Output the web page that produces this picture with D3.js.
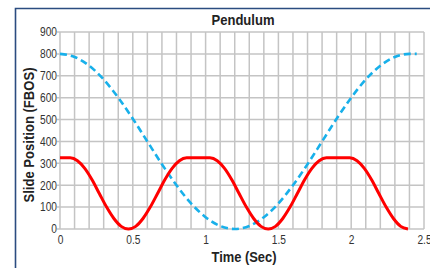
<!DOCTYPE html>
<html>
<head>
<meta charset="utf-8">
<script src="https://cdn.jsdelivr.net/npm/d3@7"></script>
<style>
  body { margin: 0; background: #fff; }
  text { font-family: "Liberation Sans", Arial, sans-serif; }
</style>
</head>
<body>
<svg id="chart" width="430" height="268"></svg>
<script>
// values
const blueTime = [0, 0.1, 0.2, 0.3, 0.4, 0.5, 0.6, 0.7, 0.8, 0.9, 1.0, 1.1, 1.2,
                  1.3, 1.4, 1.5, 1.6, 1.7, 1.8, 1.9, 2.0, 2.1, 2.2, 2.3, 2.4, 2.45];
const blueValue = [800, 786, 746, 683, 600, 504, 400, 296, 200, 117, 54, 14, 0,
                   14, 54, 117, 200, 296, 400, 504, 600, 683, 746, 786, 800, 800];

const redTime = [0, 0.07, 0.12, 0.17, 0.22, 0.27, 0.32, 0.37, 0.42, 0.47,
                 0.52, 0.57, 0.62, 0.67, 0.72, 0.77, 0.82, 0.87,
                 1.03, 1.08, 1.13, 1.18, 1.23, 1.28, 1.33, 1.38, 1.43,
                 1.48, 1.53, 1.58, 1.63, 1.68, 1.73, 1.78, 1.83,
                 1.99, 2.04, 2.09, 2.14, 2.19, 2.24, 2.29, 2.34, 2.39];
const redValue = [325, 325, 312, 277, 225, 162, 100, 48, 12, 0,
                  12, 48, 100, 162, 225, 277, 312, 325,
                  325, 312, 277, 225, 162, 100, 48, 12, 0,
                  12, 48, 100, 162, 225, 277, 312, 325,
                  325, 312, 277, 225, 162, 100, 48, 12, 0];

const xTicks = [0, 0.5, 1, 1.5, 2, 2.5];
const yTicks = [0, 100, 200, 300, 400, 500, 600, 700, 800, 900];
const xGrid = d3.range(0, 26).map(i => i / 10);

const svg = d3.select("#chart");
const margin = {left: 60, right: 6, top: 32, bottom: 39};
const width = 430 - margin.left - margin.right,
      height = 268 - margin.top - margin.bottom;

// squeeze text a bit, the original uses a condensed face
function condense(sel, k) {
  sel.each(function() {
    const w = this.getComputedTextLength();
    d3.select(this).attr("textLength", w * k).attr("lengthAdjust", "spacingAndGlyphs");
  });
}

// frame
svg.append("path")
   .attr("d", "M15.5,268 L15.5,8.5 L430,8.5")
   .attr("fill", "none")
   .attr("stroke", "#2b4c80")
   .attr("stroke-width", 1.6);

const g = svg.append("g").attr("transform", "translate(" + margin.left + "," + margin.top + ")");

const x = d3.scaleLinear().domain([0, 2.5]).range([0, width]);
const y = d3.scaleLinear().domain([0, 900]).range([height, 0]);

// grid
g.append("g").selectAll("line").data(xGrid).enter().append("line")
  .attr("x1", d => x(d)).attr("x2", d => x(d))
  .attr("y1", 0).attr("y2", height)
  .attr("stroke", "#c4c4c4").attr("stroke-width", 1.5);
g.append("g").selectAll("line").data(yTicks).enter().append("line")
  .attr("x1", -3).attr("x2", width)
  .attr("y1", d => y(d)).attr("y2", d => y(d))
  .attr("stroke", "#c4c4c4").attr("stroke-width", 1.5);

// axes labels
const xAxis = g.append("g")
  .attr("transform", "translate(0," + height + ")")
  .call(d3.axisBottom(x).tickValues(xTicks).tickSize(0).tickPadding(6).tickFormat(d3.format("")));
const yAxis = g.append("g")
  .call(d3.axisLeft(y).tickValues(yTicks).tickSize(0).tickPadding(3));
[xAxis, yAxis].forEach(a => {
  a.select(".domain").remove();
  a.selectAll("text").attr("font-size", 12).attr("fill", "#333")
   .style("font-family", '"Liberation Sans", Arial, sans-serif');
  condense(a.selectAll("text"), 0.85);
});

// lines
const lineBlue = d3.line().x((d, i) => x(blueTime[i])).y(d => y(d)).curve(d3.curveMonotoneX);
const lineRed = d3.line().x((d, i) => x(redTime[i])).y(d => y(d)).curve(d3.curveMonotoneX);

g.append("path").datum(blueValue)
  .attr("d", lineBlue)
  .attr("fill", "none")
  .attr("stroke", "#18b0ea")
  .attr("stroke-width", 2.6)
  .attr("stroke-dasharray", "7,4");

g.append("path").datum(redValue)
  .attr("d", lineRed)
  .attr("fill", "none")
  .attr("stroke", "#ff0000")
  .attr("stroke-width", 3);

// titles
svg.append("text")
  .attr("x", 243).attr("y", 25)
  .attr("text-anchor", "middle")
  .attr("font-size", 14).attr("font-weight", "bold").attr("fill", "#222")
  .attr("textLength", 63).attr("lengthAdjust", "spacingAndGlyphs")
  .text("Pendulum");

svg.append("text")
  .attr("x", 244).attr("y", 262)
  .attr("text-anchor", "middle")
  .attr("font-size", 14).attr("font-weight", "bold").attr("fill", "#222")
  .attr("textLength", 65).attr("lengthAdjust", "spacingAndGlyphs")
  .text("Time (Sec)");

svg.append("text")
  .attr("transform", "translate(34,135) rotate(-90)")
  .attr("text-anchor", "middle")
  .attr("font-size", 14).attr("font-weight", "bold").attr("fill", "#222")
  .attr("textLength", 135).attr("lengthAdjust", "spacingAndGlyphs")
  .text("Slide Position (FBOS)");
</script>
</body>
</html>
